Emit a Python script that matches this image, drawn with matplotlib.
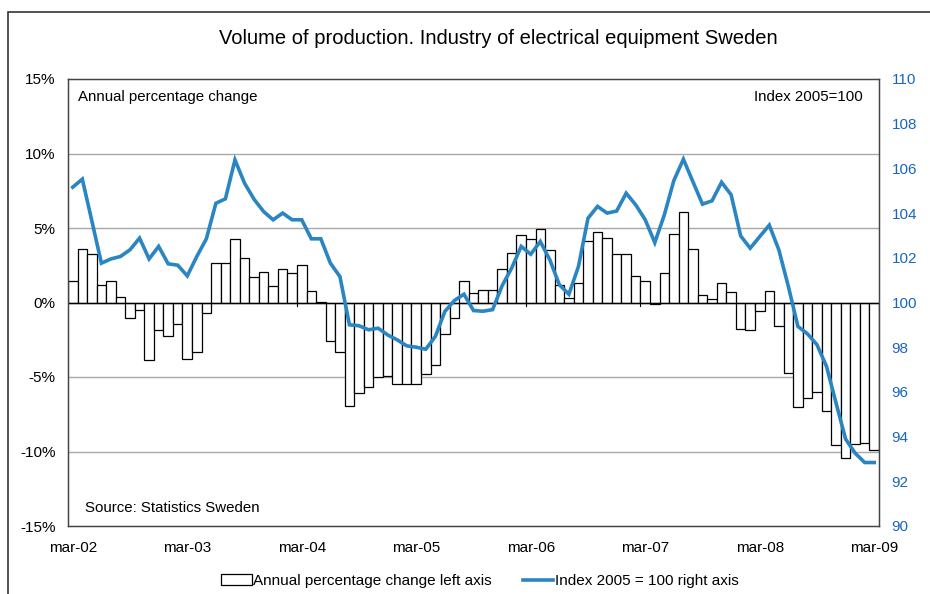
import numpy as np
import matplotlib.pyplot as plt
from matplotlib.patches import Patch, Rectangle
from matplotlib.lines import Line2D

plt.rcParams['font.family'] = ['Liberation Sans', 'DejaVu Sans']

# Datos mensuales mar-02 .. mar-09 (85 meses)
annual_change = [
    1.41, 3.62, 3.24, 1.19, 1.41, 0.34, -1.05, -0.49, -3.89, -1.83, -2.24, -1.45,
    -3.80, -3.29, -0.72, 2.62, 2.64, 4.25, 2.98, 1.74, 2.06, 1.14, 2.24, 2.01,
    2.51, 0.78, 0.02, -2.57, -3.33, -6.94, -6.09, -5.64, -4.97, -4.92, -5.46, -5.44,
    -5.50, -4.81, -4.21, -2.13, -1.05, 1.41, 0.67, 0.83, 0.83, 2.28, 3.31, 4.52,
    4.25, 4.94, 3.49, 1.16, 0.27, 1.28, 4.16, 4.72, 4.32, 3.24, 3.24, 1.79,
    1.43, -0.07, 1.97, 4.63, 6.06, 3.62, 0.51, 0.22, 1.34, 0.72, -1.81, -1.86,
    -0.60, 0.78, -1.61, -4.74, -7.02, -6.40, -6.00, -7.25, -9.55, -10.43, -9.51, -9.42,
    -9.89,
]
index_2005 = [
    105.16, 105.52, 103.65, 101.76, 101.95, 102.06, 102.36, 102.88, 101.95, 102.51, 101.73, 101.67,
    101.19, 102.06, 102.85, 104.44, 104.64, 106.38, 105.34, 104.62, 104.07, 103.70, 104.00, 103.70,
    103.70, 102.85, 102.85, 101.76, 101.16, 99.00, 98.96, 98.78, 98.85, 98.55, 98.33, 98.06,
    98.00, 97.91, 98.48, 99.60, 100.09, 100.37, 99.64, 99.61, 99.68, 100.75, 101.54, 102.51,
    102.16, 102.73, 101.91, 100.79, 100.37, 101.61, 103.77, 104.30, 104.00, 104.09, 104.89, 104.37,
    103.70, 102.68, 103.92, 105.46, 106.41, 105.40, 104.40, 104.55, 105.38, 104.82, 102.98, 102.43,
    102.95, 103.46, 102.36, 100.72, 98.93, 98.60, 98.11, 97.14, 95.50, 93.89, 93.26, 92.84,
    92.84,
]
year_labels = ['mar-02', 'mar-03', 'mar-04', 'mar-05', 'mar-06', 'mar-07', 'mar-08', 'mar-09']

blue = '#2a85c3'
fs = 11
x = np.arange(len(annual_change))

fig = plt.figure(figsize=(9.3, 5.94), dpi=100)
ax = fig.add_axes([68 / 930, 1 - 526 / 594, (879 - 68) / 930, (526 - 79) / 594])

# Barras: variación anual (eje izquierdo)
ax.bar(x, annual_change, width=1.0, facecolor='white', edgecolor='black', linewidth=0.9, zorder=2)
ax.axhline(0, color='black', linewidth=1.0, zorder=3)
for k in range(1, 7):
    ax.plot([12 * k - 0.5, 12 * k - 0.5], [0, -0.25], color='black', linewidth=0.8, zorder=3)

ax.set_ylim(-15, 15)
ax.set_xlim(-0.5, len(x) - 0.5)
ax.set_yticks(np.arange(-15, 16, 5))
ax.set_yticklabels([f'{v}%' for v in range(-15, 16, 5)])
ax.set_xticks(np.arange(0, len(x), 12))
ax.set_xticklabels(year_labels)
ax.tick_params(axis='both', length=0, labelsize=fs)
ax.tick_params(axis='y', pad=9)
ax.tick_params(axis='x', pad=11)
for v in [-10, -5, 5, 10]:
    ax.axhline(v, color='#a8a8a8', linewidth=1.0, zorder=1)
for s in ax.spines.values():
    s.set_color('#444444')
    s.set_linewidth(1.0)

# Línea: índice 2005=100 (eje derecho)
ax2 = ax.twinx()
ax2.plot(x, index_2005, color=blue, linewidth=2.6, solid_joinstyle='miter', zorder=4)
ax2.set_ylim(90, 110)
ax2.set_yticks(np.arange(90, 111, 2))
ax2.tick_params(axis='y', length=0, labelsize=fs, colors='#1a66bd', pad=9)
for s in ax2.spines.values():
    s.set_color('#444444')

ax.text(0.012, 0.975, 'Annual percentage change', transform=ax.transAxes, ha='left', va='top', fontsize=10.8)
ax.text(0.98, 0.975, 'Index 2005=100', transform=ax.transAxes, ha='right', va='top', fontsize=10.8)
ax.text(0.021, 0.025, 'Source: Statistics Sweden', transform=ax.transAxes, ha='left', va='bottom', fontsize=10.8)

fig.text(0.536, 0.936, 'Volume of production. Industry of electrical equipment Sweden',
         ha='center', va='center', fontsize=14.5)

handles = [Patch(facecolor='white', edgecolor='black', linewidth=0.9),
           Line2D([0], [0], color=blue, linewidth=2.6)]
fig.legend(handles, ['Annual percentage change left axis', 'Index 2005 = 100 right axis'],
           loc='center', bbox_to_anchor=(0.516, 0.022), ncol=2, frameon=False, fontsize=11,
           handlelength=2.0, handletextpad=0.1, columnspacing=2.0)

fig.patches.append(Rectangle((8 / 930, -0.1), 1.1, 1.1 - 12 / 594, transform=fig.transFigure,
                             fill=False, edgecolor='#333333', linewidth=1.2))

plt.savefig('out.png', dpi=100)
